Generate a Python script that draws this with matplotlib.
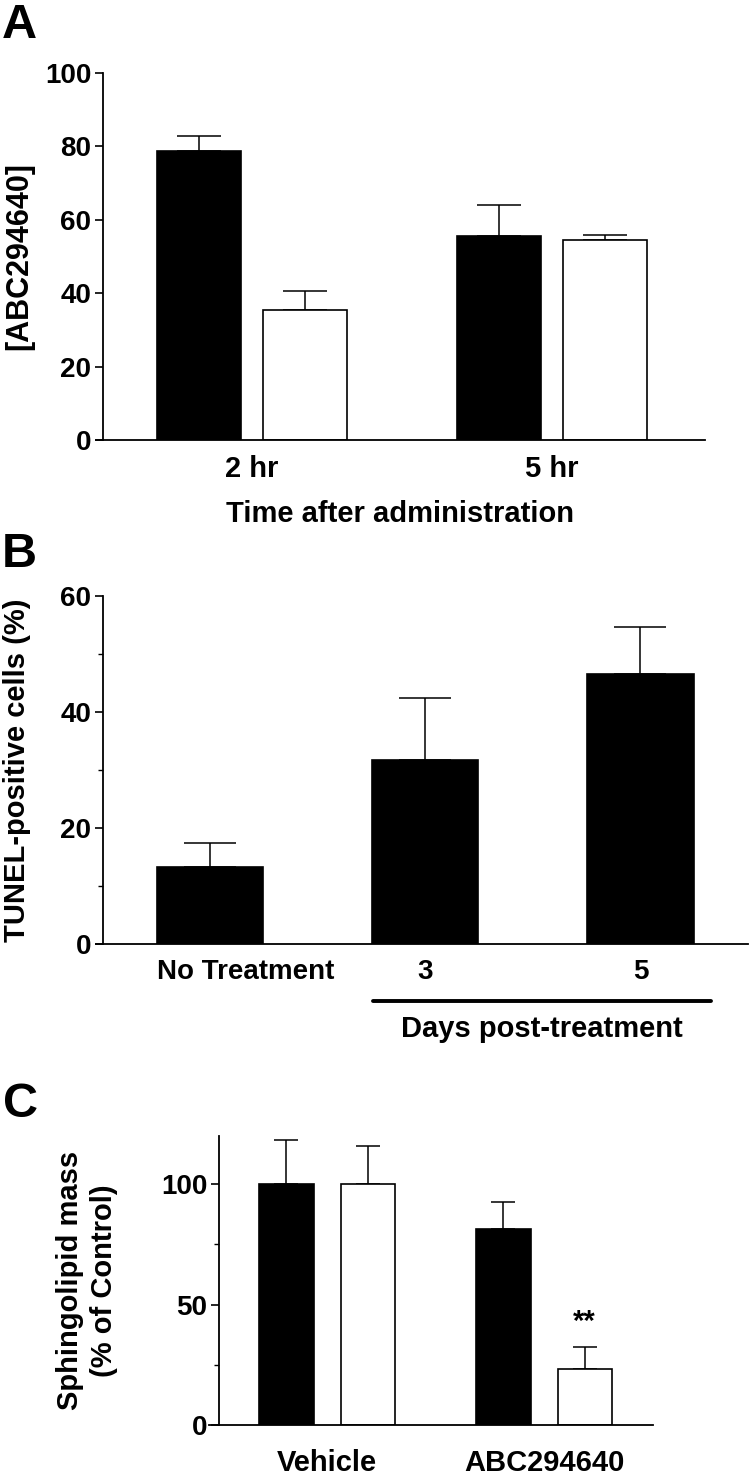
import numpy as np
import matplotlib
matplotlib.use('Agg')
import matplotlib.pyplot as plt
from matplotlib.ticker import MultipleLocator

# panel A: drug level after administration
a_groups = ['2 hr', '5 hr']
a_black = [78.7, 55.5]
a_black_err = [4.2, 8.4]
a_white = [35.3, 54.5]
a_white_err = [5.3, 1.4]

# panel B: TUNEL-positive cells
b_labels = ['No Treatment', '3', '5']
b_vals = [13.3, 31.8, 46.6]
b_err = [4.2, 10.7, 8.1]

# panel C: sphingolipid mass
c_groups = ['Vehicle', 'ABC294640']
c_black = [100.0, 81.4]
c_black_err = [18.4, 11.0]
c_white = [100.0, 23.1]
c_white_err = [15.9, 9.4]

W, H = 750, 1476
plt.rcParams['font.family'] = ['Liberation Sans', 'DejaVu Sans']
plt.rcParams['font.weight'] = 'bold'

fig = plt.figure(figsize=(W / 100, H / 100), dpi=100)


def add_ax(left, right, top, bottom):
    return fig.add_axes([left / W, 1 - bottom / H, (right - left) / W, (bottom - top) / H])


def style(ax, off_px, width_px, xpad, xsize):
    for s in ['top', 'right']:
        ax.spines[s].set_visible(False)
    for s in ['left', 'bottom']:
        ax.spines[s].set_linewidth(1.3)
    ax.spines['left'].set_position(('axes', off_px / width_px))
    ax.tick_params(axis='x', length=0, pad=xpad, labelsize=xsize)
    ax.tick_params(axis='y', which='major', direction='out', length=5.5, width=1.2,
                   pad=3, labelsize=20)
    ax.tick_params(axis='y', which='minor', direction='out', length=3.5, width=1.0)


def ylab(ax, text, size, xpos, **kw):
    ax.set_ylabel(text, fontweight='bold', fontsize=size, **kw)
    ax.yaxis.label.set_va('center')
    ax.yaxis.set_label_coords(xpos, 0.5)


def pair_bars(ax, black, black_err, white, white_err, w, off, cap):
    x = np.arange(len(black))
    ax.bar(x - off, black, w, color='black', edgecolor='black', lw=1.2, zorder=2)
    ax.bar(x + off, white, w, color='white', edgecolor='black', lw=1.2, zorder=2)
    ax.errorbar(x - off, black, yerr=[np.zeros(len(black)), black_err], fmt='none',
                ecolor='black', elinewidth=1.1, capsize=cap, capthick=1.1, zorder=1)
    ax.errorbar(x + off, white, yerr=[np.zeros(len(white)), white_err], fmt='none',
                ecolor='black', elinewidth=1.1, capsize=cap, capthick=1.1, zorder=1)
    return x


# ---- A ----
axA = add_ax(96, 705, 73, 440)
x = pair_bars(axA, a_black, a_black_err, a_white, a_white_err, 0.28, 0.176, 15.5)
axA.set_xlim(-0.52, 1.51)
axA.set_ylim(0, 100)
axA.set_yticks(np.arange(0, 101, 20))
axA.set_xticks(x)
axA.set_xticklabels(a_groups)
style(axA, 7, 609, 11, 21)
ylab(axA, '[ABC294640]', 22, (19 - 96) / 609)
axA.set_xlabel('Time after administration', fontweight='bold', fontsize=21, labelpad=12)
fig.text(2 / W, 1 - 38 / H, 'A', fontweight='bold', fontsize=35, va='baseline')

# ---- B ----
axB = add_ax(96, 748, 596, 944)
xb = np.arange(len(b_vals))
axB.bar(xb, b_vals, 0.495, color='black', edgecolor='black', lw=1.2, zorder=2)
axB.errorbar(xb, b_vals, yerr=[np.zeros(len(b_vals)), b_err], fmt='none',
             ecolor='black', elinewidth=1.1, capsize=19, capthick=1.1, zorder=1)
axB.set_xlim(-0.53, 2.50)
axB.set_ylim(0, 60)
axB.set_yticks([0, 20, 40, 60])
axB.yaxis.set_minor_locator(MultipleLocator(10))
axB.set_xticks(xb[1:])
axB.set_xticklabels(b_labels[1:])
style(axB, 7, 652, 11, 20)
axB.annotate(b_labels[0], xy=(xb[0] - 0.2475, 0), xycoords=('data', 'axes fraction'),
             xytext=(0, -11), textcoords='offset points', ha='left', va='top',
             fontweight='bold', fontsize=20)
tr = axB.get_xaxis_transform()
axB.plot([xb[1] - 0.245, xb[2] + 0.33], [-0.163, -0.163], color='black', lw=2.8,
         transform=tr, clip_on=False, solid_capstyle='round')
axB.text((xb[1] - 0.245 + xb[2] + 0.33) / 2, -0.205, 'Days post-treatment', transform=tr,
         ha='center', va='top', fontweight='bold', fontsize=21)
ylab(axB, 'TUNEL-positive cells (%)', 21, (17 - 96) / 652)
fig.text(2 / W, 1 - 567 / H, 'B', fontweight='bold', fontsize=35, va='baseline')

# ---- C ----
axC = add_ax(209, 653, 1136, 1425)
xc = pair_bars(axC, c_black, c_black_err, c_white, c_white_err, 0.25, 0.187, 8.6)
axC.set_xlim(-0.544, 1.502)
axC.set_ylim(0, 120)
axC.set_yticks([0, 50, 100])
axC.yaxis.set_minor_locator(MultipleLocator(25))
axC.set_xticks(xc)
axC.set_xticklabels(c_groups)
style(axC, 10, 444, 17, 21)
axC.annotate('**', xy=(xc[1] + 0.187, c_white[1] + c_white_err[1]), xytext=(0, 8),
             textcoords='offset points', ha='center', va='bottom',
             fontweight='bold', fontsize=21)
ylab(axC, 'Sphingolipid mass\n(% of Control)', 21, (87 - 209) / 444, linespacing=1.3)
fig.text(3 / W, 1 - 1117 / H, 'C', fontweight='bold', fontsize=35, va='baseline')

fig.savefig('out.png', dpi=100, facecolor='white')
